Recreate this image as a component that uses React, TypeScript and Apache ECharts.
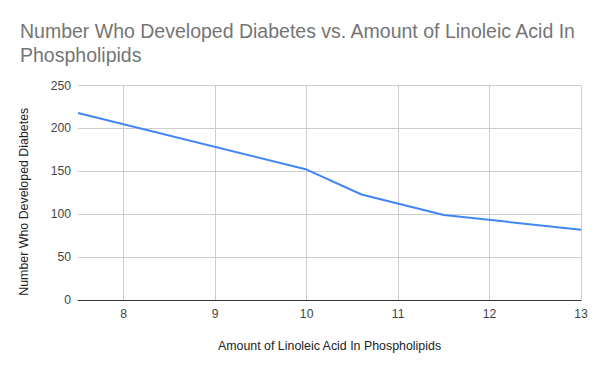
import React, { useEffect, useRef } from "react";
import * as echarts from "echarts";

const linoleicAcid = [7.5, 10, 10.6, 11.5, 13];
const diabetesCount = [218, 152, 123, 99, 82];
const xTicks = [8, 9, 10, 11, 12, 13];
const yTicks = [0, 50, 100, 150, 200, 250];

export default function App() {
  const ref = useRef<HTMLDivElement>(null);
  useEffect(() => {
    if (!ref.current) return;
    const chart = echarts.init(ref.current, undefined, { renderer: "svg" });
    const font = "'Liberation Sans', Arial, sans-serif";
    chart.setOption({
      animation: false,
      backgroundColor: "#ffffff",
      title: {
        text: "Number Who Developed Diabetes vs. Amount of Linoleic Acid In\nPhospholipids",
        left: 15,
        top: 13.5,
        textStyle: {
          fontFamily: font,
          fontSize: 19.5,
          fontWeight: "normal",
          color: "#757575",
          lineHeight: 24,
        },
      },
      grid: { left: 78, right: 19, top: 85.5, bottom: 71 },
      xAxis: {
        type: "value",
        min: 7.5,
        max: 13,
        name: "Amount of Linoleic Acid In Phospholipids",
        nameLocation: "middle",
        nameGap: 39.5,
        nameTextStyle: { fontFamily: font, fontSize: 12.4, color: "#222222" },
        axisLine: { show: true, onZero: false, lineStyle: { color: "#333333", width: 1 } },
        axisTick: { show: false, customValues: xTicks },
        axisLabel: {
          fontFamily: font,
          fontSize: 12.2,
          color: "#444444",
          margin: 8,
          customValues: xTicks,
        },
        splitLine: { show: true, lineStyle: { color: "#cccccc", width: 1 } },
      },
      yAxis: {
        type: "value",
        min: 0,
        max: 250,
        interval: 50,
        name: "Number Who Developed Diabetes",
        nameLocation: "middle",
        nameGap: 48,
        nameTextStyle: { fontFamily: font, fontSize: 12.4, color: "#222222", padding: [0, 18, 0, 0] },
        axisLine: { show: false },
        axisTick: { show: false, customValues: yTicks },
        axisLabel: {
          fontFamily: font,
          fontSize: 12.2,
          color: "#444444",
          margin: 7,
          customValues: yTicks,
        },
        splitLine: { show: true, lineStyle: { color: "#cccccc", width: 1 } },
      },
      series: [
        {
          type: "line",
          data: linoleicAcid.map((x, i) => [x, diabetesCount[i]]),
          showSymbol: false,
          lineStyle: { color: "#4285F4", width: 2 },
          itemStyle: { color: "#4285F4" },
        },
      ],
    });
    return () => chart.dispose();
  }, []);
  return <div ref={ref} style={{ width: 600, height: 371, position: "absolute", left: 0, top: 0 }} />;
}
